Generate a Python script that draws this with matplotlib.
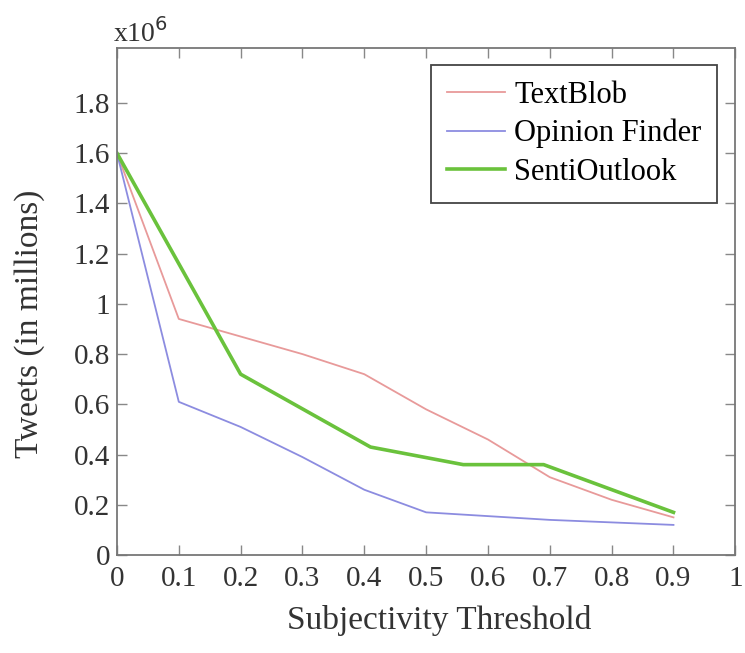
import matplotlib.pyplot as plt
from matplotlib.ticker import FuncFormatter

# values in units of 1e6 tweets
textblob_x = [0, 0.1, 0.2, 0.3, 0.4, 0.5, 0.6, 0.7, 0.8, 0.9]
textblob_y = [1.6, 0.94, 0.87, 0.80, 0.72, 0.58, 0.46, 0.31, 0.22, 0.15]

opinion_x = [0, 0.1, 0.2, 0.3, 0.4, 0.5, 0.6, 0.7, 0.8, 0.9]
opinion_y = [1.6, 0.61, 0.51, 0.39, 0.26, 0.17, 0.155, 0.14, 0.13, 0.12]

senti_x = [0, 0.2, 0.41, 0.56, 0.69, 0.9]
senti_y = [1.6, 0.72, 0.43, 0.36, 0.36, 0.17]

x_ticks = [0, 0.1, 0.2, 0.3, 0.4, 0.5, 0.6, 0.7, 0.8, 0.9, 1]
y_ticks = [0, 0.2, 0.4, 0.6, 0.8, 1, 1.2, 1.4, 1.6, 1.8]

plt.rcParams['font.family'] = ['Liberation Serif', 'DejaVu Serif']

fig = plt.figure(figsize=(7.45, 6.53), dpi=100)
ax = fig.add_axes([0.157, 0.150, 0.830, 0.777])

ax.plot(textblob_x, textblob_y, color='#e89a9a', lw=1.3, label='TextBlob')
ax.plot(opinion_x, opinion_y, color='#8c8ce0', lw=1.3, label='Opinion Finder')
ax.plot(senti_x, senti_y, color='#6ac23c', lw=2.6, label='SentiOutlook')

ax.set_xlim(0, 1)
ax.set_ylim(0, 2.02)
ax.set_xticks(x_ticks)
ax.set_yticks(y_ticks)
ax.xaxis.set_major_formatter(FuncFormatter(lambda v, p: '%g' % v))
ax.yaxis.set_major_formatter(FuncFormatter(lambda v, p: '%g' % v))
ax.tick_params(direction='in', top=True, right=True, length=7, width=1,
               color='#888888', labelsize=21, labelcolor='#333333')
ax.tick_params(axis='x', pad=8)
ax.tick_params(axis='y', pad=5)
for s in ax.spines.values():
    s.set_color('#777777')
    s.set_linewidth(1.3)

ax.set_xlabel('Subjectivity Threshold', fontsize=24, color='#333333')
ax.set_ylabel('Tweets (in millions)', fontsize=24, color='#333333')
ax.xaxis.set_label_coords(0.521, -0.098)
ax.yaxis.set_label_coords(-0.116, 0.455)
fig.text(0.152, 0.935, r'x10$^6$', fontsize=20, color='#333333')

leg = ax.legend(loc='upper right', bbox_to_anchor=(0.971, 0.966), fontsize=22,
                fancybox=False, edgecolor='#444444', framealpha=1,
                handlelength=1.9, handletextpad=0.3, borderpad=0.52,
                labelspacing=0.3, borderaxespad=0)
leg.get_frame().set_linewidth(1.3)

fig.savefig('out.png', dpi=100)
